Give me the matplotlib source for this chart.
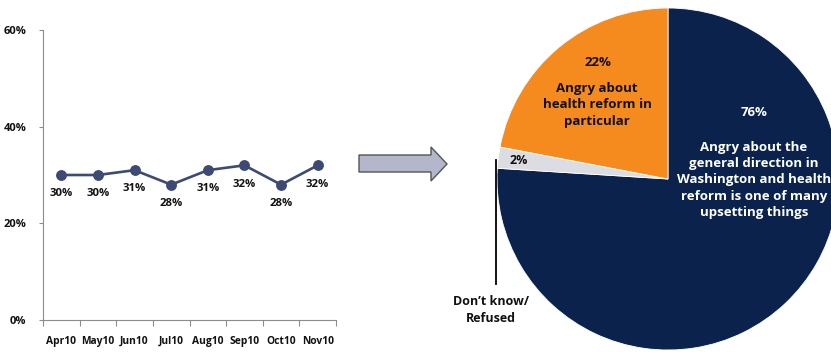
import numpy as np
import matplotlib
matplotlib.use("Agg")
import matplotlib.pyplot as plt
from matplotlib.patches import Polygon
from matplotlib.ticker import FuncFormatter, FixedLocator

plt.rcParams["font.family"] = ["Open Sans", "DejaVu Sans"]
plt.rcParams["font.weight"] = "bold"

# monthly trend
months = ["Apr10", "May10", "Jun10", "Jul10", "Aug10", "Sep10", "Oct10", "Nov10"]
angry_share = [30, 30, 31, 28, 31, 32, 28, 32]

# breakdown of the latest month
slice_values = [76, 2, 22]
slice_pct_labels = ["76%", "2%", "22%"]
slice_texts = [
    "Angry about the\ngeneral direction in\nWashington and health\nreform is one of many\nupsetting things",
    "Don\u2019t know/\nRefused",
    "Angry about\nhealth reform in\nparticular",
]

LINE = "#3d4a73"
NAVY = "#0b234c"
ORANGE = "#f58a1f"
LIGHT = "#dcdce3"
SPINE = "#8c8c8c"
TXT = "#111111"

W, H = 831, 352
fig = plt.figure(figsize=(W / 100, H / 100), dpi=100)

# --- trend line ---
ax = fig.add_axes([43 / W, 32 / H, 293 / W, 290 / H])
x = np.arange(len(months))
ax.plot(x, angry_share, color=LINE, linewidth=1.9, marker="o", markersize=6.8,
        markerfacecolor=LINE, markeredgecolor=LINE, zorder=3)
for xi, v in zip(x, angry_share):
    ax.annotate(f"{v}%", (xi, v), xytext=(0, -13.5), textcoords="offset points",
                ha="center", va="center", fontsize=8.2, fontweight="bold", color=TXT)

ax.set_xlim(-0.5, len(months) - 0.5)
ax.set_ylim(0, 60)
ax.set_yticks([0, 20, 40, 60])
ax.yaxis.set_major_formatter(FuncFormatter(lambda v, _: f"{v:.0f}%"))
ax.set_xticks(x)
ax.set_xticklabels(months)
ax.xaxis.set_minor_locator(FixedLocator(np.arange(-0.5, len(months), 1.0)))
ax.tick_params(axis="x", which="major", length=0, pad=17, labelsize=7.4, colors=TXT)
ax.tick_params(axis="x", which="minor", length=4, direction="out", color=SPINE, width=0.8)
ax.tick_params(axis="y", length=3, direction="out", color=SPINE, width=0.8, pad=9,
               labelsize=8, colors=TXT)
for lab in ax.get_xticklabels():
    lab.set_fontweight("bold")
    lab.set_verticalalignment("baseline")
for lab in ax.get_yticklabels():
    lab.set_fontweight("bold")
for side in ("top", "right"):
    ax.spines[side].set_visible(False)
for side in ("left", "bottom"):
    ax.spines[side].set_color(SPINE)
    ax.spines[side].set_linewidth(0.8)

# --- block arrow between the panels ---
arrow_px = [(359, 155), (431, 155), (431, 147), (447, 164), (431, 181),
            (431, 172), (359, 172)]
arrow = Polygon([(px / W, 1 - py / H) for px, py in arrow_px], closed=True,
                transform=fig.transFigure, facecolor="#b4b7cb", edgecolor="#555555",
                linewidth=1.0)
fig.patches.append(arrow)

# --- pie ---
R = 171
cx, cy = 668, 179
pax = fig.add_axes([(cx - R) / W, (H - cy - R) / H, 2 * R / W, 2 * R / H])
pax.pie(slice_values, colors=[NAVY, LIGHT, ORANGE], startangle=90, counterclock=False,
        radius=1.0, wedgeprops=dict(edgecolor="white", linewidth=0.6))
pax.set_xlim(-1, 1)
pax.set_ylim(-1, 1)
pax.set_axis_off()


def to_data(px, py):
    return (px - cx) / R, (cy - py) / R


# navy slice
pax.text(*to_data(754, 112), slice_pct_labels[0], ha="center", va="center",
         color="white", fontsize=9.5, fontweight="bold")
pax.text(*to_data(754, 180), slice_texts[0], ha="center", va="center",
         color="white", fontsize=9.5, fontweight="bold", linespacing=1.32)
# orange slice
pax.text(*to_data(598, 62), slice_pct_labels[2], ha="center", va="center",
         color=TXT, fontsize=9.5, fontweight="bold")
pax.text(*to_data(597, 105), slice_texts[2], ha="center", va="center",
         color=TXT, fontsize=9.5, fontweight="bold", linespacing=1.32)
# small slice with leader line
pax.text(*to_data(519, 161), slice_pct_labels[1], ha="center", va="center",
         color=TXT, fontsize=9, fontweight="bold")
lx0, ly0 = to_data(496, 160)
lx1, ly1 = to_data(496, 284)
pax.plot([lx0, lx1], [ly0, ly1], color="black", linewidth=1.3, clip_on=False)
pax.text(*to_data(491, 310), slice_texts[1], ha="center", va="center",
         color=TXT, fontsize=9, fontweight="bold", linespacing=1.32)

fig.savefig("out.png", dpi=100, facecolor="white")
